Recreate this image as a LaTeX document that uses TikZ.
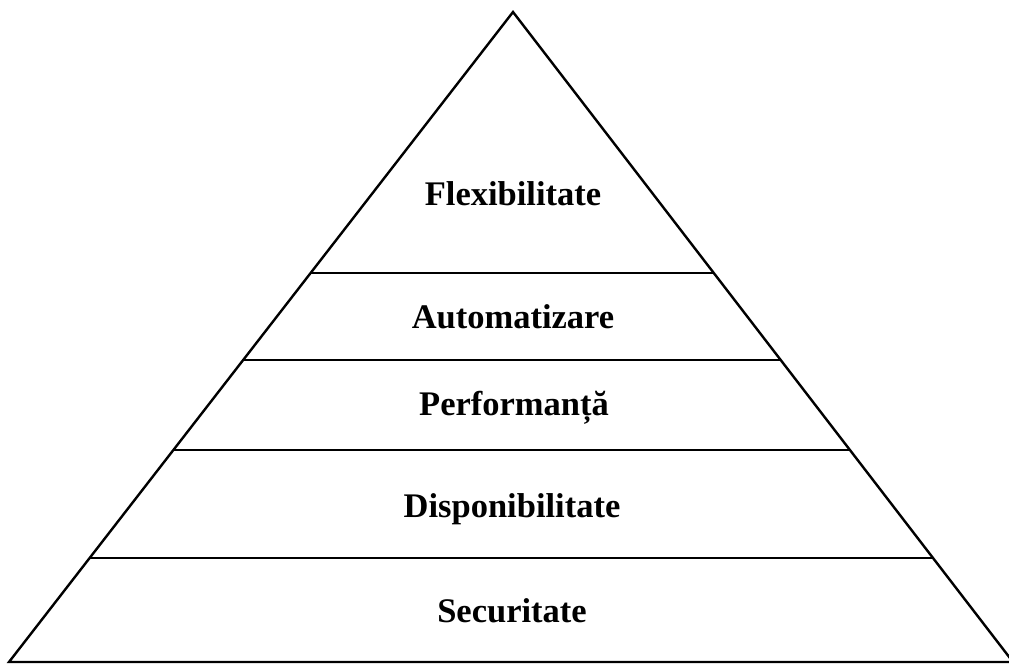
\documentclass[tikz,border=0pt]{standalone}
\usepackage{fontspec}
\setmainfont{Liberation Serif}
\usetikzlibrary{calc}
\begin{document}
\begin{tikzpicture}[x=1pt,y=-1pt,
  edge/.style={draw=black,line width=2.4pt,line join=miter},
  lab/.style={font=\fontsize{34.5}{40}\selectfont\bfseries,inner sep=0pt,anchor=base}]
\useasboundingbox[fill=white] (0,0) rectangle (1009,664);
\coordinate (A) at (513,12);
\coordinate (L) at (9,662);
\coordinate (R) at (1013,662);
\draw[edge] (L) -- (A) -- (R) -- cycle;
\foreach \y/\n in {273/a,360/b,450/c,558/d}{
  \pgfmathsetmacro{\t}{(\y-12)/650}
  \coordinate (l\n) at ($(A)!\t!(L)$);
  \coordinate (r\n) at ($(A)!\t!(R)$);
  \draw[edge] (l\n) -- (r\n);
}
\node[lab] (flex) at (513,205) {Flexibilitate};
\node[lab] (auto) at (513,328) {Automatizare};
\node[lab] (perf) at (514,415) {Performanță};
\node[lab] (disp) at (512,517) {Disponibilitate};
\node[lab] (sec) at (512,622) {Securitate};
\end{tikzpicture}
\end{document}
